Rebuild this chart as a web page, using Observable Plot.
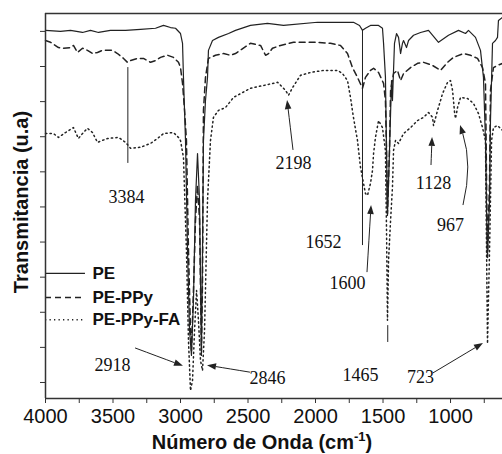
<!DOCTYPE html>
<html><head><meta charset="utf-8">
<script src="https://cdn.jsdelivr.net/npm/d3@7"></script>
<script src="https://cdn.jsdelivr.net/npm/@observablehq/plot@0.6"></script>
<style>body{margin:0;background:#fff}</style>
</head><body><div id="chart"></div>
<script>
// PE (solid)
const peWn = [4000,3889,3815,3726,3667,3607,3519,3407,3296,3185,3126,3074,3037,3000,2985,2978,2963,2948,2933,2919,2904,2889,2874,2859,2845,2837,2830,2815,2800,2793,2763,2719,2644,2593,2482,2356,2237,1985,1719,1674,1652,1630,1593,1533,1504,1496,1482,1474,1467,1452,1437,1430,1415,1400,1385,1370,1356,1348,1326,1311,1274,1222,1163,1089,1015,941,889,867,815,778,756,741,733,726,711,704,689,667,652,645,615];
const peT  = [100.3,100.0,100.3,99.7,100.3,99.7,100.3,100.3,100.6,100.9,101.7,101.1,100.9,99.4,96.6,86.9,68.9,37.6,14.8,7.7,23.4,51.9,65.2,51.9,7.7,37.6,68.9,80.3,86.9,94.6,97.4,98.3,99.4,100.3,101.7,102.3,101.7,102.6,102.6,101.7,100.3,100.9,101.7,101.7,100.9,96.6,86.9,66.1,47.6,66.1,86.0,80.3,96.6,99.4,98.3,93.7,96.6,97.4,95.4,97.4,98.9,99.7,100.3,96.9,98.9,100.3,99.4,100.3,98.3,94.6,86.9,68.9,49.0,36.2,51.9,74.6,96.6,97.4,98.3,103.1,104.0];
// PE-PPy (dashed)
const ppyWn = [4000,3963,3904,3867,3815,3793,3763,3726,3689,3652,3615,3578,3504,3467,3422,3393,3370,3319,3274,3222,3185,3148,3096,3052,3015,3000,2985,2970,2956,2941,2926,2919,2904,2889,2874,2859,2845,2837,2830,2815,2793,2741,2681,2630,2593,2482,2407,2370,2348,2319,2259,2163,2089,1985,1889,1815,1763,1726,1689,1652,1630,1593,1570,1533,1496,1482,1474,1467,1452,1444,1422,1393,1370,1348,1296,1244,1200,1133,1074,1022,978,904,852,800,763,741,733,726,711,704,682,652,615];
const ppyT  = [97.4,96.9,95.4,95.2,95.4,96.0,94.0,95.2,94.6,93.7,94.0,94.6,94.6,93.7,92.3,91.2,91.7,92.3,92.3,91.2,91.7,92.6,93.2,92.6,91.2,89.7,85.2,77.5,68.9,37.6,14.8,9.1,26.2,46.2,56.1,46.2,9.1,29.1,77.5,86.9,92.3,93.2,93.7,93.2,93.7,96.6,96.0,93.2,93.7,95.2,96.0,96.9,96.9,96.9,96.6,96.0,93.7,89.7,86.9,83.8,86.9,88.9,89.5,88.3,85.2,80.3,66.1,48.1,66.1,83.2,88.0,88.9,86.0,88.0,89.7,90.9,91.2,90.3,88.9,91.2,92.6,93.7,93.2,92.3,89.7,85.2,57.5,35.6,57.5,83.2,89.7,90.3,90.9];
// PE-PPy-FA (dotted)
const faWn = [4000,3941,3904,3852,3793,3756,3726,3689,3652,3615,3541,3459,3407,3370,3296,3222,3170,3126,3052,3015,3000,2978,2956,2941,2926,2911,2896,2881,2867,2852,2837,2822,2800,2778,2756,2719,2667,2607,2482,2385,2281,2222,2200,2170,2111,2037,1941,1837,1800,1763,1741,1719,1689,1667,1630,1615,1593,1578,1570,1556,1533,1504,1482,1474,1467,1459,1444,1430,1422,1407,1385,1348,1296,1244,1200,1163,1133,1126,1096,1059,1022,1000,985,970,963,948,926,874,830,793,763,741,733,726,711,696,682,652,615];
const faT  = [70.9,70.9,69.8,71.2,72.6,69.5,70.9,72.4,71.2,68.4,69.5,69.8,68.4,66.7,67.0,68.1,69.5,70.9,71.2,69.8,68.9,64.1,37.6,12.0,-2.3,0.6,14.8,26.2,17.7,6.3,3.4,14.8,51.9,68.9,75.5,77.5,78.3,81.2,83.8,84.6,85.5,83.2,81.8,84.0,87.5,88.3,88.9,88.9,88.0,86.0,81.2,75.5,68.9,61.3,53.8,53.3,56.7,60.4,65.2,69.8,74.6,72.6,66.1,43.3,17.7,34.8,46.2,55.6,66.1,69.0,68.1,70.9,72.6,74.6,75.5,76.9,75.5,73.2,77.5,82.3,85.5,86.0,83.2,76.9,75.2,78.3,81.2,80.9,79.5,76.6,72.6,68.9,37.6,11.1,37.6,68.9,72.6,73.2,71.8];

const xTicks = [4000,3750,3500,3250,3000,2750,2500,2250,2000,1750,1500,1250,1000,750];
const yTicks = [0,10,20,30,40,50,60,70,80,90,100];

const seriesNames = ["PE","PE-PPy","PE-PPy-FA"];
const legendY = [31.1, 24.2, 17.9];

const annoText = ["3384","2198","1652","1600","1128","967","1465","723","2918","2846"];
const annoWn   = [3400,2163,1941,1763,1126,1000,1667,1222,3504,2356];
const annoT    = [52.7,62.4,39.9,28.2,56.7,44.7,2.0,1.4,4.8,1.1];

const ruleWn = [3390,1652,1465];
const ruleT1 = [89.7,100.3,16.2];
const ruleT2 = [62.4,39.0,11.4];

const arrowX1 = [2163,1615,1141,904,1126,3333,2482];
const arrowY1 = [66.1,31.3,61.8,50.4,2.6,9.7,2.8];
const arrowX2 = [2207,1585,1133,926,756,2978,2800];
const arrowY2 = [80.3,50.4,69.8,73.2,11.1,4.6,4.8];
const arrowBend = [0,0,0,0.14,0,0,0];

const styles = [
  {dash: null, w: 1.2},
  {dash: "6,4", w: 1.5},
  {dash: "1.3,3.2", w: 1.5}
];
const seriesData = [[peWn,peT],[ppyWn,ppyT],[faWn,faT]].map(([w,t]) => w.map((x,i)=>({x, y:t[i]})));
const xDomain = [4000, 615];
const yDomain = [-4.56, 105.1];
const ink = "#222";

const marks = [];
seriesData.forEach((d,i) => {
  marks.push(Plot.line(d, {x:"x", y:"y", stroke: ink, strokeWidth: styles[i].w, strokeDasharray: styles[i].dash}));
});
// legend
seriesNames.forEach((n,i) => {
  marks.push(Plot.ruleY([legendY[i]], {x1: 4000, x2: 3704, stroke: ink, strokeWidth: styles[i].w, strokeDasharray: styles[i].dash}));
});
marks.push(Plot.text(seriesNames, {x: 3652, y: (d,i)=>legendY[i], text: d=>d, textAnchor:"start", fontWeight:"bold", fontSize: 17, fill: "#111"}));
// annotations
marks.push(Plot.ruleX(ruleWn, {x: d=>d, y1:(d,i)=>ruleT1[i], y2:(d,i)=>ruleT2[i], stroke: ink, strokeWidth: 1}));
marks.push(Plot.text(annoText, {x:(d,i)=>annoWn[i], y:(d,i)=>annoT[i], text:d=>d, fontFamily:"Liberation Serif", fontSize: 18, fill:"#111"}));
// frame
marks.push(Plot.ruleY([yDomain[1]], {stroke:"#333", strokeWidth:1.5}));
marks.push(Plot.ruleY([yDomain[0]], {stroke:"#333", strokeWidth:1.5}));
marks.push(Plot.ruleX([xDomain[0]], {stroke:"#333", strokeWidth:1.5}));
// axes
marks.push(Plot.axisX(xTicks, {tickSize: 5, tickPadding: 5, fontSize: 20, tickFormat: d => d % 500 === 0 ? String(d) : "", label: null, stroke: "#333", fill: "#111"}));
marks.push(Plot.axisY(yTicks, {tickSize: 5, tickFormat: () => "", label: null, stroke: "#333"}));

const chart = Plot.plot({
  width: 502, height: 454,
  marginLeft: 45, marginRight: 0, marginTop: 13, marginBottom: 56,
  style: {fontFamily: "Liberation Sans", background: "#fff", color: "#111"},
  x: {domain: xDomain},
  y: {domain: yDomain},
  marks
});
const sx = chart.scale("x"), sy = chart.scale("y");
const svg = d3.select(chart);
const ag = svg.append("g").attr("fill", ink).attr("stroke", ink);
arrowX1.forEach((x1, i) => {
  const p1 = [sx.apply(x1), sy.apply(arrowY1[i])];
  const p2 = [sx.apply(arrowX2[i]), sy.apply(arrowY2[i])];
  const dx = p2[0]-p1[0], dy = p2[1]-p1[1];
  const c = [ (p1[0]+p2[0])/2 - dy*arrowBend[i], (p1[1]+p2[1])/2 + dx*arrowBend[i] ];
  const tx = p2[0]-c[0], ty = p2[1]-c[1], tl = Math.hypot(tx, ty);
  const ux = tx/tl, uy = ty/tl, hl = 9, hw = 3.3;
  const base = [p2[0]-ux*hl, p2[1]-uy*hl];
  ag.append("path").attr("fill","none").attr("stroke-width",1)
    .attr("d", `M${p1[0]},${p1[1]} Q${c[0]},${c[1]} ${base[0]},${base[1]}`);
  ag.append("path").attr("stroke","none")
    .attr("d", `M${p2[0]},${p2[1]} L${base[0]-uy*hw},${base[1]+ux*hw} L${base[0]+uy*hw},${base[1]-ux*hw} Z`);
});
const xl = svg.append("text").attr("x", 262).attr("y", 449).attr("text-anchor","middle")
  .attr("font-family","Liberation Sans").attr("font-weight","bold").attr("font-size",20).attr("fill","#111");
xl.append("tspan").text("Número de Onda (cm");
xl.append("tspan").attr("dy",-8).attr("font-size",13).text("-1");
xl.append("tspan").attr("dy",8).text(")");
svg.append("text").attr("transform","translate(28,202) rotate(-90)").attr("text-anchor","middle")
  .attr("font-family","Liberation Sans").attr("font-weight","bold").attr("font-size",20).attr("fill","#111")
  .text("Transmitancia (u.a)");
document.getElementById("chart").appendChild(chart);
</script>
</body></html>
